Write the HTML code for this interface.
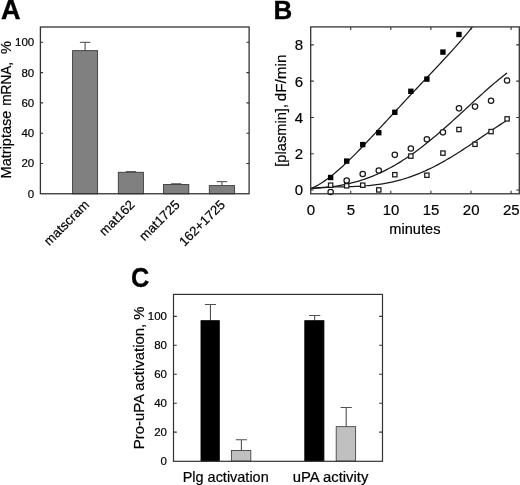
<!DOCTYPE html><html><head><meta charset="utf-8"><title>Figure</title><style>html,body{margin:0;padding:0;background:#fff}svg{display:block;filter:grayscale(1)}text{font-family:"Liberation Sans",sans-serif;fill:#000;stroke:#000;stroke-width:0.2px}</style></head><body>
<svg width="520" height="485" viewBox="0 0 520 485">
<rect width="520" height="485" fill="#fff"/>
<text x="0.9" y="19.1" font-size="27" font-weight="bold" fill="#000" style="stroke-width:0.45px">A</text>
<path d="M85.1 50.63V42.3M79.9 42.3H90.3" stroke="#444" stroke-width="1" fill="none"/>
<rect x="72.6" y="50.63" width="25" height="143.17" fill="#808080" stroke="#3a3a3a" stroke-width="0.9"/>
<path d="M130.85 172.29V171.68M125.65 171.68H136.05" stroke="#444" stroke-width="1" fill="none"/>
<rect x="118.3" y="172.29" width="25.1" height="21.51" fill="#808080" stroke="#3a3a3a" stroke-width="0.9"/>
<path d="M176.15 184.56V183.8M170.95 183.8H181.35" stroke="#444" stroke-width="1" fill="none"/>
<rect x="163.5" y="184.56" width="25.3" height="9.24" fill="#808080" stroke="#3a3a3a" stroke-width="0.9"/>
<path d="M221.95 185.62V181.68M216.75 181.68H227.15" stroke="#444" stroke-width="1" fill="none"/>
<rect x="209.3" y="185.62" width="25.3" height="8.18" fill="#808080" stroke="#3a3a3a" stroke-width="0.9"/>
<rect x="40.4" y="27.0" width="208.7" height="166.75" fill="none" stroke="#333" stroke-width="1.3"/>
<text x="34.2" y="167.4" font-size="11.5" text-anchor="end">20</text>
<text x="34.2" y="137.1" font-size="11.5" text-anchor="end">40</text>
<text x="34.2" y="106.8" font-size="11.5" text-anchor="end">60</text>
<text x="34.2" y="76.5" font-size="11.5" text-anchor="end">80</text>
<text x="34.2" y="46.2" font-size="11.5" text-anchor="end">100</text>
<text x="34.2" y="197.7" font-size="11.5" text-anchor="end">0</text>
<path d="M40.4 163.5h2.7M249.1 163.5h-2.7M40.4 133.2h2.7M249.1 133.2h-2.7M40.4 102.9h2.7M249.1 102.9h-2.7M40.4 72.6h2.7M249.1 72.6h-2.7M40.4 42.3h2.7M249.1 42.3h-2.7" stroke="#333" stroke-width="1.1" fill="none"/>
<text transform="translate(10.8 178.4) rotate(-90) scale(0.955 1)" font-size="15.2">Matriptase</text>
<text transform="translate(10.8 105.7) rotate(-90) scale(0.893 1)" font-size="15.2">mRNA,</text>
<text transform="translate(10.8 54.1) rotate(-90) scale(0.955 1)" font-size="15.2">%</text>
<text transform="translate(89.9 205.5) rotate(-45)" font-size="13.1" text-anchor="end">matscram</text>
<text transform="translate(135.45 205.5) rotate(-45)" font-size="13.1" text-anchor="end">mat162</text>
<text transform="translate(180.55 205.5) rotate(-45)" font-size="13.1" text-anchor="end">mat1725</text>
<text transform="translate(225.85 205.5) rotate(-45)" font-size="13.1" text-anchor="end">162+1725</text>
<text x="273.5" y="19.1" font-size="26" font-weight="bold" fill="#000" style="stroke-width:0.3px">B</text>
<clipPath id="cb"><rect x="310.7" y="26.9" width="208.6" height="166.9"/></clipPath>
<path d="M310.6 188.81L312.61 187.91L314.61 186.93L316.62 185.87L318.62 184.73L320.62 183.52L322.63 182.24L324.64 180.88L326.64 179.47L328.65 177.99L330.65 176.46L332.66 174.87L334.66 173.23L336.67 171.54L338.67 169.81L340.68 168.04L342.68 166.22L344.69 164.37L346.69 162.48L348.7 160.56L350.7 158.61L352.71 156.63L354.71 154.62L356.72 152.6L358.72 150.55L360.73 148.48L362.73 146.39L364.74 144.29L366.74 142.18L368.75 140.05L370.75 137.91L372.75 135.77L374.76 133.61L376.76 131.45L378.77 129.28L380.78 127.11L382.78 124.94L384.79 122.77L386.79 120.59L388.8 118.42L390.8 116.24L392.81 114.07L394.81 111.9L396.81 109.73L398.82 107.56L400.83 105.4L402.83 103.24L404.84 101.08L406.84 98.93L408.85 96.78L410.85 94.64L412.86 92.5L414.86 90.37L416.87 88.23L418.87 86.1L420.88 83.98L422.88 81.85L424.88 79.73L426.89 77.61L428.89 75.49L430.9 73.36L432.91 71.24L434.91 69.11L436.92 66.98L438.92 64.84L440.93 62.7L442.93 60.55L444.94 58.39L446.94 56.22L448.95 54.04L450.95 51.84L452.96 49.63L454.96 47.4L456.97 45.16L458.97 42.89L460.98 40.6L462.98 38.28L464.99 35.94L466.99 33.56L469 31.16L471 28.72L473 26.24L475.01 23.72" stroke="#1a1a1a" stroke-width="1.25" fill="none" stroke-linejoin="round" clip-path="url(#cb)"/>
<path d="M310.6 188.55L312.61 188.44L314.61 188.33L316.62 188.2L318.62 188.06L320.62 187.9L322.63 187.73L324.64 187.55L326.64 187.34L328.65 187.12L330.65 186.88L332.66 186.62L334.66 186.34L336.67 186.03L338.67 185.7L340.68 185.35L342.68 184.98L344.69 184.58L346.69 184.15L348.7 183.7L350.7 183.23L352.71 182.72L354.71 182.19L356.72 181.63L358.72 181.04L360.73 180.42L362.73 179.77L364.74 179.09L366.74 178.39L368.75 177.65L370.75 176.88L372.75 176.08L374.76 175.25L376.76 174.38L378.77 173.49L380.78 172.57L382.78 171.61L384.79 170.62L386.79 169.6L388.8 168.55L390.8 167.47L392.81 166.36L394.81 165.21L396.81 164.04L398.82 162.84L400.83 161.6L402.83 160.34L404.84 159.04L406.84 157.72L408.85 156.37L410.85 154.99L412.86 153.58L414.86 152.14L416.87 150.68L418.87 149.19L420.88 147.68L422.88 146.14L424.88 144.58L426.89 142.99L428.89 141.38L430.9 139.75L432.91 138.1L434.91 136.43L436.92 134.74L438.92 133.03L440.93 131.31L442.93 129.56L444.94 127.8L446.94 126.03L448.95 124.25L450.95 122.45L452.96 120.64L454.96 118.82L456.97 117L458.97 115.17L460.98 113.33L462.98 111.48L464.99 109.64L466.99 107.79L469 105.94L471 104.1L473 102.25L475.01 100.41L477.01 98.58L479.02 96.76L481.02 94.94L483.03 93.14L485.04 91.34L487.04 89.57L489.05 87.81L491.05 86.06L493.06 84.34L495.06 82.64L497.07 80.96L499.07 79.31L501.08 77.69L503.08 76.1L505.09 74.54L507.09 73.01" stroke="#1a1a1a" stroke-width="1.25" fill="none" stroke-linejoin="round" clip-path="url(#cb)"/>
<path d="M310.6 188.46L312.61 188.23L314.61 188.03L316.62 187.85L318.62 187.69L320.62 187.55L322.63 187.43L324.64 187.33L326.64 187.24L328.65 187.16L330.65 187.09L332.66 187.03L334.66 186.98L336.67 186.93L338.67 186.89L340.68 186.85L342.68 186.81L344.69 186.76L346.69 186.71L348.7 186.66L350.7 186.6L352.71 186.54L354.71 186.46L356.72 186.38L358.72 186.28L360.73 186.17L362.73 186.05L364.74 185.91L366.74 185.75L368.75 185.58L370.75 185.39L372.75 185.18L374.76 184.95L376.76 184.7L378.77 184.43L380.78 184.14L382.78 183.82L384.79 183.48L386.79 183.11L388.8 182.72L390.8 182.3L392.81 181.86L394.81 181.39L396.81 180.9L398.82 180.37L400.83 179.82L402.83 179.25L404.84 178.64L406.84 178.01L408.85 177.34L410.85 176.65L412.86 175.93L414.86 175.19L416.87 174.41L418.87 173.61L420.88 172.78L422.88 171.92L424.88 171.03L426.89 170.12L428.89 169.18L430.9 168.21L432.91 167.22L434.91 166.2L436.92 165.15L438.92 164.08L440.93 162.99L442.93 161.88L444.94 160.74L446.94 159.58L448.95 158.4L450.95 157.2L452.96 155.98L454.96 154.74L456.97 153.49L458.97 152.22L460.98 150.93L462.98 149.63L464.99 148.32L466.99 146.99L469 145.66L471 144.31L473 142.96L475.01 141.6L477.01 140.24L479.02 138.87L481.02 137.5L483.03 136.14L485.04 134.77L487.04 133.4L489.05 132.05L491.05 130.69L493.06 129.35L495.06 128.02L497.07 126.69L499.07 125.39L501.08 124.1L503.08 122.82L505.09 121.57L507.09 120.34" stroke="#1a1a1a" stroke-width="1.25" fill="none" stroke-linejoin="round" clip-path="url(#cb)"/>
<rect x="327.95" y="174.8" width="5.4" height="5.4" fill="#000"/>
<rect x="343.99" y="158.4" width="5.4" height="5.4" fill="#000"/>
<rect x="360.03" y="141.9" width="5.4" height="5.4" fill="#000"/>
<rect x="376.07" y="130" width="5.4" height="5.4" fill="#000"/>
<rect x="392.11" y="109.6" width="5.4" height="5.4" fill="#000"/>
<rect x="408.15" y="88.6" width="5.4" height="5.4" fill="#000"/>
<rect x="424.19" y="76.4" width="5.4" height="5.4" fill="#000"/>
<rect x="440.23" y="49.4" width="5.4" height="5.4" fill="#000"/>
<rect x="456.27" y="31.8" width="5.4" height="5.4" fill="#000"/>
<circle cx="330.65" cy="192" r="2.7" fill="#fff" stroke="#1a1a1a" stroke-width="1.25"/>
<circle cx="346.69" cy="180.5" r="2.7" fill="#fff" stroke="#1a1a1a" stroke-width="1.25"/>
<circle cx="362.73" cy="174" r="2.7" fill="#fff" stroke="#1a1a1a" stroke-width="1.25"/>
<circle cx="378.77" cy="170.5" r="2.7" fill="#fff" stroke="#1a1a1a" stroke-width="1.25"/>
<circle cx="394.81" cy="154.8" r="2.7" fill="#fff" stroke="#1a1a1a" stroke-width="1.25"/>
<circle cx="410.85" cy="148.5" r="2.7" fill="#fff" stroke="#1a1a1a" stroke-width="1.25"/>
<circle cx="426.89" cy="139.2" r="2.7" fill="#fff" stroke="#1a1a1a" stroke-width="1.25"/>
<circle cx="442.93" cy="132.3" r="2.7" fill="#fff" stroke="#1a1a1a" stroke-width="1.25"/>
<circle cx="458.97" cy="108.3" r="2.7" fill="#fff" stroke="#1a1a1a" stroke-width="1.25"/>
<circle cx="475.01" cy="106.6" r="2.7" fill="#fff" stroke="#1a1a1a" stroke-width="1.25"/>
<circle cx="491.05" cy="100.7" r="2.7" fill="#fff" stroke="#1a1a1a" stroke-width="1.25"/>
<circle cx="507.09" cy="80.5" r="2.7" fill="#fff" stroke="#1a1a1a" stroke-width="1.25"/>
<rect x="328.5" y="183.05" width="4.3" height="4.3" fill="#fff" stroke="#1a1a1a" stroke-width="1.25"/>
<rect x="344.54" y="183.65" width="4.3" height="4.3" fill="#fff" stroke="#1a1a1a" stroke-width="1.25"/>
<rect x="360.58" y="183.05" width="4.3" height="4.3" fill="#fff" stroke="#1a1a1a" stroke-width="1.25"/>
<rect x="376.62" y="187.75" width="4.3" height="4.3" fill="#fff" stroke="#1a1a1a" stroke-width="1.25"/>
<rect x="392.66" y="172.55" width="4.3" height="4.3" fill="#fff" stroke="#1a1a1a" stroke-width="1.25"/>
<rect x="408.7" y="153.95" width="4.3" height="4.3" fill="#fff" stroke="#1a1a1a" stroke-width="1.25"/>
<rect x="424.74" y="173.05" width="4.3" height="4.3" fill="#fff" stroke="#1a1a1a" stroke-width="1.25"/>
<rect x="440.78" y="150.95" width="4.3" height="4.3" fill="#fff" stroke="#1a1a1a" stroke-width="1.25"/>
<rect x="456.82" y="127.35" width="4.3" height="4.3" fill="#fff" stroke="#1a1a1a" stroke-width="1.25"/>
<rect x="472.86" y="142.15" width="4.3" height="4.3" fill="#fff" stroke="#1a1a1a" stroke-width="1.25"/>
<rect x="488.9" y="129.45" width="4.3" height="4.3" fill="#fff" stroke="#1a1a1a" stroke-width="1.25"/>
<rect x="504.94" y="116.75" width="4.3" height="4.3" fill="#fff" stroke="#1a1a1a" stroke-width="1.25"/>
<rect x="310.7" y="26.9" width="208.6" height="166.9" fill="none" stroke="#333" stroke-width="1.3"/>
<text x="303" y="195.4" font-size="15" text-anchor="end">0</text>
<text x="303" y="159.12" font-size="15" text-anchor="end">2</text>
<text x="303" y="122.84" font-size="15" text-anchor="end">4</text>
<text x="303" y="86.56" font-size="15" text-anchor="end">6</text>
<text x="303" y="50.28" font-size="15" text-anchor="end">8</text>
<text x="310.8" y="214.5" font-size="15" text-anchor="middle">0</text>
<text x="350.9" y="214.5" font-size="15" text-anchor="middle">5</text>
<text x="391" y="214.5" font-size="15" text-anchor="middle">10</text>
<text x="431.1" y="214.5" font-size="15" text-anchor="middle">15</text>
<text x="471.2" y="214.5" font-size="15" text-anchor="middle">20</text>
<text x="511.3" y="214.5" font-size="15" text-anchor="middle">25</text>
<path d="M310.7 190h3.1M519.3 190h-3.1M310.7 153.72h3.1M519.3 153.72h-3.1M310.7 117.44h3.1M519.3 117.44h-3.1M310.7 81.16h3.1M519.3 81.16h-3.1M310.7 44.88h3.1M519.3 44.88h-3.1M350.7 26.9v3.1M350.7 193.8v-3.1M390.8 26.9v3.1M390.8 193.8v-3.1M430.9 26.9v3.1M430.9 193.8v-3.1M471 26.9v3.1M471 193.8v-3.1M511.1 26.9v3.1M511.1 193.8v-3.1" stroke="#333" stroke-width="1.1" fill="none"/>
<text transform="translate(286.1 166.7) rotate(-90)" font-size="14.65">[plasmin],</text>
<text transform="translate(286.1 101.3) rotate(-90)" font-size="15.3">dF/min</text>
<text x="414.9" y="233.7" font-size="14.6" text-anchor="middle">minutes</text>
<text transform="translate(131.0 286.55) scale(0.89 1)" font-size="28.5" font-weight="bold" fill="#000" style="stroke-width:0.3px">C</text>
<path d="M210.45 320.69V304.48M204.85 304.48H216.05" stroke="#505050" stroke-width="1.1" fill="none"/>
<rect x="201" y="320.69" width="18.3" height="140.41" fill="#000" stroke="#000" stroke-width="0.9"/>
<path d="M241.4 450.53V439.68M235.8 439.68H247" stroke="#505050" stroke-width="1.1" fill="none"/>
<rect x="231.4" y="450.53" width="19.4" height="10.57" fill="#c0c0c0" stroke="#444" stroke-width="0.9"/>
<path d="M314.65 320.69V315.48M309.05 315.48H320.25" stroke="#505050" stroke-width="1.1" fill="none"/>
<rect x="304.8" y="320.69" width="19.1" height="140.41" fill="#000" stroke="#000" stroke-width="0.9"/>
<path d="M346.2 426.65V407.54M340.6 407.54H351.8" stroke="#505050" stroke-width="1.1" fill="none"/>
<rect x="336.2" y="426.65" width="19.4" height="34.45" fill="#c0c0c0" stroke="#444" stroke-width="0.9"/>
<rect x="173.5" y="294.4" width="209" height="166.9" fill="none" stroke="#333" stroke-width="1.2"/>
<text x="167" y="436.15" font-size="11.5" text-anchor="end">20</text>
<text x="167" y="407.2" font-size="11.5" text-anchor="end">40</text>
<text x="167" y="378.25" font-size="11.5" text-anchor="end">60</text>
<text x="167" y="349.3" font-size="11.5" text-anchor="end">80</text>
<text x="167" y="320.35" font-size="11.5" text-anchor="end">100</text>
<text x="167" y="465.1" font-size="11.5" text-anchor="end">0</text>
<path d="M173.5 432.15h3.3M382.5 432.15h-3.3M173.5 403.2h3.3M382.5 403.2h-3.3M173.5 374.25h3.3M382.5 374.25h-3.3M173.5 345.3h3.3M382.5 345.3h-3.3M173.5 316.35h3.3M382.5 316.35h-3.3" stroke="#333" stroke-width="1.1" fill="none"/>
<text transform="translate(144.3 449.2) rotate(-90) scale(0.972 1)" font-size="15.3">Pro-uPA activation, %</text>
<text x="182.7" y="481.8" font-size="14.6" textLength="86" lengthAdjust="spacingAndGlyphs">Plg activation</text>
<text x="292.7" y="481.6" font-size="14.5" textLength="75.7" lengthAdjust="spacingAndGlyphs">uPA activity</text>
</svg></body></html>
